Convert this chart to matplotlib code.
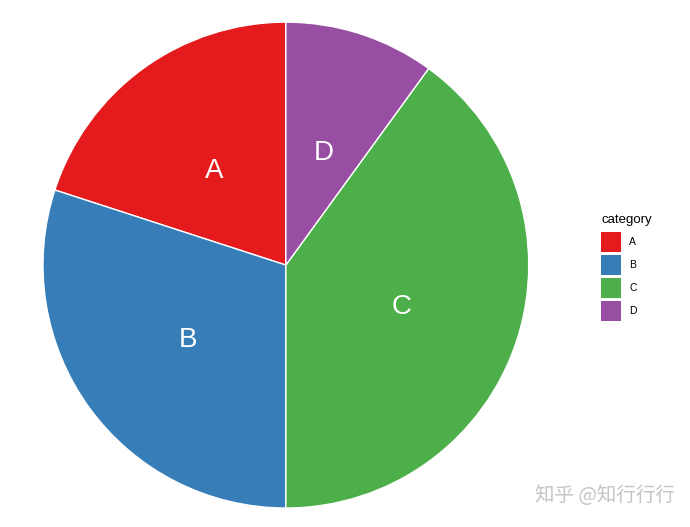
import matplotlib
matplotlib.use("Agg")
import matplotlib.pyplot as plt
from matplotlib.patches import Patch

categories = ["A", "B", "C", "D"]
values = [20, 30, 40, 10]
colors = ["#E41A1C", "#377EB8", "#4DAF4A", "#984EA3"]

plt.rcParams['font.family'] = ['Liberation Sans', 'DejaVu Sans']

fig = plt.figure(figsize=(6.9, 5.27), dpi=100)
ax = fig.add_axes([0.0623, 0.036, 0.704, 0.922])

wedges, texts = ax.pie(values, labels=categories, colors=colors, startangle=90,
                       counterclock=True, labeldistance=0.5, radius=1,
                       wedgeprops=dict(edgecolor="white", linewidth=1),
                       textprops=dict(color="white", fontsize=20))
for t in texts:
    t.set_horizontalalignment("center")
    t.set_verticalalignment("center")
    x, y = t.get_position()
    t.set_position((x, y - 0.016))
ax.set_xlim(-1, 1)
ax.set_ylim(-1, 1)
ax.set_aspect("auto")
ax.axis("off")

handles = [Patch(facecolor=c, edgecolor="none") for c in colors]
leg = fig.legend(handles, categories, title="category", loc="upper left",
                 bbox_to_anchor=(0.858, 0.612), frameon=False, fontsize=7.5,
                 title_fontsize=9.5, handlelength=1.92, handleheight=2.58,
                 labelspacing=0.29, handletextpad=0.75)
leg._legend_box.align = "left"
leg._legend_box.sep = 4.2

fig.text(0.978, 0.04, "知乎 @知行行行", ha="right", va="bottom", fontsize=14,
         color="#c4c4c4", family=['Noto Sans CJK SC', 'DejaVu Sans'])

fig.savefig("out.png", dpi=100)
